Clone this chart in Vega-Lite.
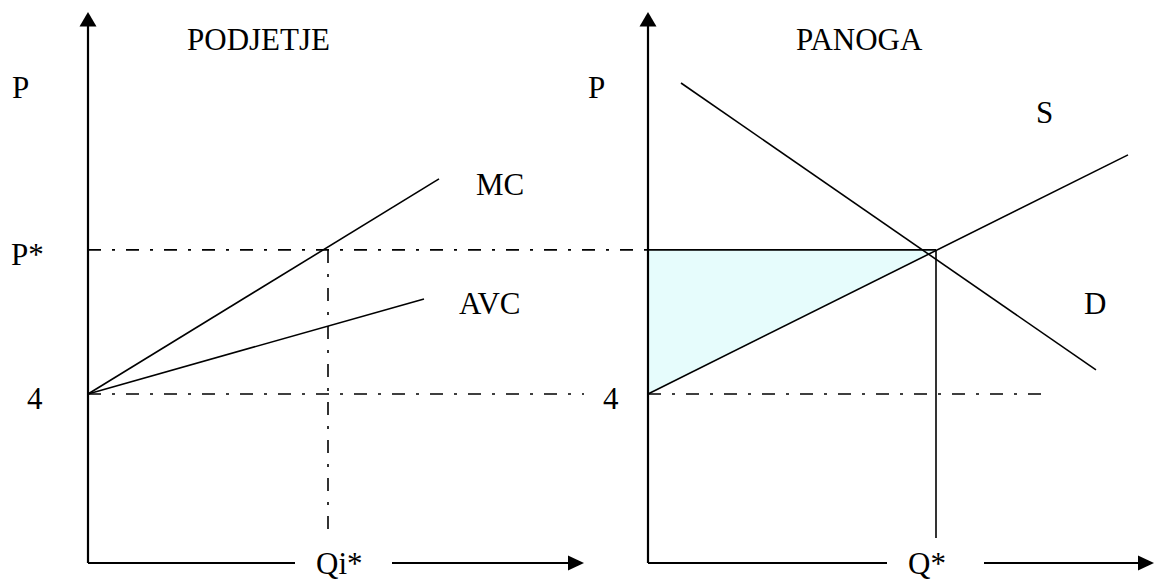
{
  "$schema": "https://vega.github.io/schema/vega-lite/v6.json",
  "width": 1155,
  "height": 582,
  "padding": 0,
  "autosize": {"type": "none"},
  "background": "white",
  "config": {"view": {"stroke": null}},
  "datasets": {
    "fill": [
      {"x": 28.0, "p": 4.0, "p2": 7.41},
      {"x": 42.4, "p": 7.41, "p2": 7.41}
    ],
    "dashdot": [
      {"name": "P* left", "x": 0, "p": 7.41, "x2": 28.0, "p2": 7.41},
      {"name": "4 left", "x": 0, "p": 4.0, "x2": 24.8, "p2": 4.0},
      {"name": "4 right", "x": 28.0, "p": 4.0, "x2": 48.0, "p2": 4.0},
      {"name": "Qi*", "x": 12.0, "p": 7.41, "x2": 12.0, "p2": 0.59}
    ],
    "curves": [
      {"name": "MC", "x": 0, "p": 4.0, "x2": 17.55, "p2": 9.09},
      {"name": "AVC", "x": 0, "p": 4.0, "x2": 16.8, "p2": 6.25},
      {"name": "D", "x": 29.65, "p": 11.36, "x2": 50.4, "p2": 4.57},
      {"name": "S", "x": 28.0, "p": 4.0, "x2": 52.0, "p2": 9.66},
      {"name": "P* right", "x": 28.0, "p": 7.41, "x2": 42.4, "p2": 7.41},
      {"name": "Q*", "x": 42.4, "p": 7.41, "x2": 42.4, "p2": 0.59}
    ],
    "axes": [
      {"name": "left P", "x": 0, "p": 0, "x2": 0, "p2": 12.8},
      {"name": "left Q a", "x": 0, "p": 0, "x2": 10.35, "p2": 0},
      {"name": "left Q b", "x": 15.2, "p": 0, "x2": 24.1, "p2": 0},
      {"name": "right P", "x": 28.0, "p": 0, "x2": 28.0, "p2": 12.8},
      {"name": "right Q a", "x": 28.0, "p": 0, "x2": 39.95, "p2": 0},
      {"name": "right Q b", "x": 44.8, "p": 0, "x2": 52.6, "p2": 0}
    ],
    "arrowsUp": [
      {"x": 0, "p": 12.87},
      {"x": 28.0, "p": 12.87}
    ],
    "arrowsRight": [
      {"x": 24.4, "p": 0},
      {"x": 52.9, "p": 0}
    ],
    "labels": [
      {"label": "PODJETJE", "x": 4.95, "p": 12.14},
      {"label": "PANOGA", "x": 35.4, "p": 12.14},
      {"label": "P", "x": -3.8, "p": 11.01},
      {"label": "P", "x": 25.0, "p": 11.01},
      {"label": "P*", "x": -3.85, "p": 7.05},
      {"label": "4", "x": -3.05, "p": 3.645},
      {"label": "4", "x": 25.75, "p": 3.645},
      {"label": "MC", "x": 19.4, "p": 8.71},
      {"label": "AVC", "x": 18.55, "p": 5.89},
      {"label": "S", "x": 47.4, "p": 10.41},
      {"label": "D", "x": 49.8, "p": 5.89},
      {"label": "Qi*", "x": 11.4, "p": -0.25},
      {"label": "Q*", "x": 41.0, "p": -0.25}
    ]
  },
  "encoding": {
    "x": {"field": "x", "type": "quantitative", "axis": null,
          "scale": {"domain": [-4.4, 53.35], "nice": false, "zero": false}},
    "y": {"field": "p", "type": "quantitative", "axis": null,
          "scale": {"domain": [-0.45, 13.325], "nice": false, "zero": false}}
  },
  "layer": [
    {
      "data": {"name": "fill"},
      "mark": {"type": "area", "color": "#e6fcfc", "opacity": 1},
      "encoding": {"y2": {"field": "p2"}}
    },
    {
      "data": {"name": "dashdot"},
      "mark": {"type": "rule", "color": "black", "strokeWidth": 1.6, "strokeDash": [13, 11, 3, 11]},
      "encoding": {"x2": {"field": "x2"}, "y2": {"field": "p2"}}
    },
    {
      "data": {"name": "curves"},
      "mark": {"type": "rule", "color": "black", "strokeWidth": 1.6},
      "encoding": {"x2": {"field": "x2"}, "y2": {"field": "p2"}}
    },
    {
      "data": {"name": "axes"},
      "mark": {"type": "rule", "color": "black", "strokeWidth": 2.2},
      "encoding": {"x2": {"field": "x2"}, "y2": {"field": "p2"}}
    },
    {
      "data": {"name": "arrowsUp"},
      "mark": {"type": "point", "shape": "M0,-0.85L1,0.85L-1,0.85Z", "size": 289, "filled": true, "color": "black", "opacity": 1, "strokeWidth": 0}
    },
    {
      "data": {"name": "arrowsRight"},
      "mark": {"type": "point", "shape": "M1,0L-1,-0.94L-1,0.94Z", "size": 256, "filled": true, "color": "black", "opacity": 1, "strokeWidth": 0}
    },
    {
      "data": {"name": "labels"},
      "mark": {"type": "text", "font": "Liberation Serif", "fontSize": 31, "color": "black", "align": "left", "baseline": "alphabetic"},
      "encoding": {"text": {"field": "label", "type": "nominal"}}
    }
  ]
}
